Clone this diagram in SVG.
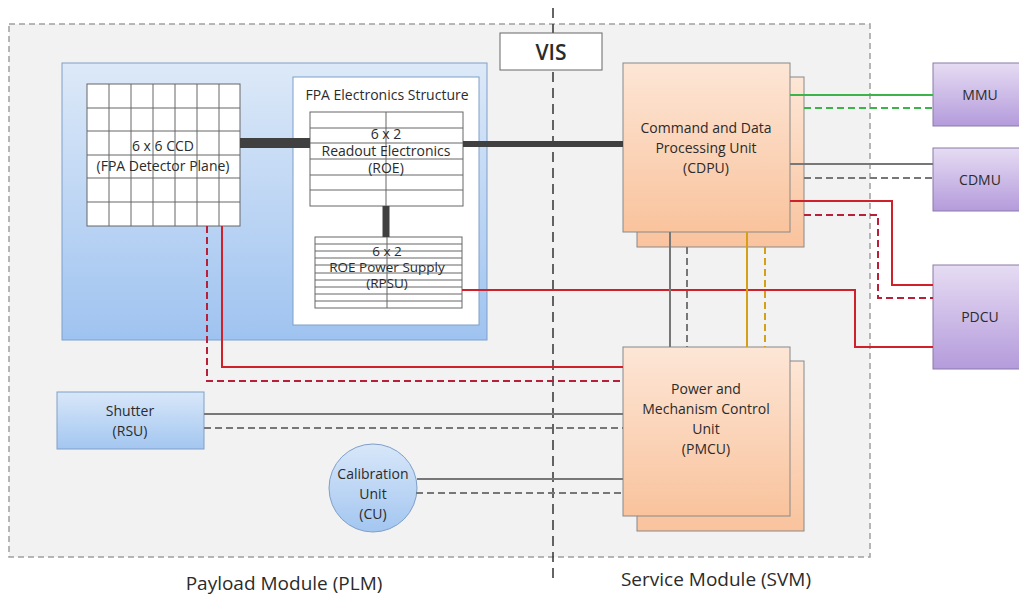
<svg xmlns="http://www.w3.org/2000/svg" width="1019" height="596" viewBox="0 0 1019 596">
<defs>
<linearGradient id="gBlue" x1="0" y1="0" x2="0" y2="1"><stop offset="0" stop-color="#dde9f8"/><stop offset="1" stop-color="#9fc3f0"/></linearGradient>
<linearGradient id="gBlue2" x1="0" y1="0" x2="0" y2="1"><stop offset="0" stop-color="#d8e7f9"/><stop offset="1" stop-color="#a3c6f0"/></linearGradient>
<linearGradient id="gPeach" x1="0" y1="0" x2="0" y2="1"><stop offset="0" stop-color="#fde6d6"/><stop offset="1" stop-color="#f9c39d"/></linearGradient>
<linearGradient id="gPurple" x1="0" y1="0" x2="0" y2="1"><stop offset="0" stop-color="#e6dcf3"/><stop offset="1" stop-color="#b49bdb"/></linearGradient>
<style>
text{font-family:"Open Sans","Liberation Sans",sans-serif;fill:#2b2b2b;text-anchor:middle}
.t{font-size:14px}
.s{font-size:13.5px}
.big{font-size:19px}
.grid{fill:#fff;stroke:#666;stroke-width:1}
.gl{stroke:#666;stroke-width:1}
.peach{fill:url(#gPeach);stroke:#888;stroke-width:1}
.purple{fill:url(#gPurple);stroke:#8a7aa8;stroke-width:1}
.c{fill:none;stroke-width:2}
.d{stroke-dasharray:7,4}
.gray{stroke:#777}
.red{stroke:#d0202a}
.redd{stroke:#b8203a}
.green{stroke:#3cb44a}
.gold{stroke:#d4a017}
.thick{stroke:#404040;fill:none}
</style>
</defs>
<rect width="1019" height="596" fill="#fff"/>
<g id="plm-svm-frame">
<rect x="9" y="24" width="861" height="533" fill="#f2f2f2" stroke="#a0a0a0" stroke-width="1.5" stroke-dasharray="6,4"/>
<line x1="553" y1="8" x2="553" y2="582" stroke="#333" stroke-width="1.5" stroke-dasharray="10,6"/>
</g>
<g id="vis"><rect x="500" y="33" width="102" height="37" fill="#fff" stroke="#666" stroke-width="1"/><text x="551" y="60" style="font-size:21px;font-weight:600">VIS</text></g>
<g id="fpa"><rect x="62" y="63" width="425" height="277" fill="url(#gBlue)" stroke="#7f9fc8" stroke-width="1"/></g>
<g id="ccd">
<rect x="87" y="84" width="153" height="142" class="grid"/>
<path class="gl" d="M109 84V226M131 84V226M153 84V226M175 84V226M197 84V226M219 84V226M87 108H240M87 131H240M87 155H240M87 178H240M87 202H240"/>
<text class="t" x="163" y="151">6 x 6 CCD</text>
<text class="t" x="163" y="171">(FPA Detector Plane)</text>
</g>
<g id="fpa-electronics">
<rect x="293" y="77" width="186" height="248" fill="#fff" stroke="#7f9fc8" stroke-width="1"/>
<text class="t" x="387" y="100">FPA Electronics Structure</text>
</g>
<g id="roe">
<rect x="310" y="112" width="153" height="94" class="grid"/>
<path class="gl" d="M386 112V206M310 128H463M310 143H463M310 159H463M310 175H463M310 190H463"/>
<text class="t" x="386" y="139">6  x 2</text>
<text class="t" x="386" y="156">Readout Electronics</text>
<text class="t" x="386" y="173">(ROE)</text>
</g>
<g id="rpsu">
<rect x="315" y="237" width="147" height="71" class="grid"/>
<path class="gl" d="M387 237V308M315 244H462M315 251H462M315 258H462M315 265H462M315 273H462M315 280H462M315 287H462M315 294H462M315 301H462"/>
<text class="s" x="387" y="256">6  x 2</text>
<text class="s" x="387" y="272">ROE Power Supply</text>
<text class="s" x="387" y="288">(RPSU)</text>
</g>
<g id="shutter">
<rect x="57" y="392" width="147" height="57" fill="url(#gBlue2)" stroke="#7f9fc8" stroke-width="1"/>
<text class="t" x="130" y="416">Shutter</text>
<text class="t" x="130" y="436">(RSU)</text>
</g>
<g id="cu">
<circle cx="373" cy="488" r="44" fill="url(#gBlue2)" stroke="#7f9fc8" stroke-width="1"/>
<text class="t" x="373" y="479">Calibration</text>
<text class="t" x="373" y="499">Unit</text>
<text class="t" x="373" y="519">(CU)</text>
</g>
<g id="cdpu">
<rect x="637" y="77" width="167" height="170" class="peach"/>
<rect x="623" y="63" width="167" height="169" class="peach"/>
<text class="t" x="706" y="133">Command and Data</text>
<text class="t" x="706" y="153">Processing Unit</text>
<text class="t" x="706" y="173">(CDPU)</text>
</g>
<g id="pmcu">
<rect x="637" y="361" width="167" height="170" class="peach"/>
<rect x="623" y="347" width="167" height="169" class="peach"/>
<text class="t" x="706" y="394">Power and</text>
<text class="t" x="706" y="414">Mechanism Control</text>
<text class="t" x="706" y="434">Unit</text>
<text class="t" x="706" y="454">(PMCU)</text>
</g>
<g id="mmu"><rect x="933" y="63" width="90" height="63" class="purple"/><text class="t" x="980" y="100">MMU</text></g>
<g id="cdmu"><rect x="933" y="148" width="90" height="63" class="purple"/><text class="t" x="980" y="185">CDMU</text></g>
<g id="pdcu"><rect x="933" y="265" width="90" height="104" class="purple"/><text class="t" x="980" y="322">PDCU</text></g>
<g id="connectors">
<line x1="240" y1="143" x2="310" y2="143" class="thick" stroke-width="10"/>
<line x1="463" y1="144" x2="623" y2="144" class="thick" stroke-width="6"/>
<line x1="386" y1="206" x2="386" y2="237" class="thick" stroke-width="7"/>
<polyline points="462,290 855,290 855,347 933,347" class="c red"/>
<polyline points="222,226 222,367 623,367" class="c red"/>
<polyline points="207,226 207,381 623,381" class="c redd d"/>
<line x1="204" y1="414" x2="623" y2="414" class="c gray"/>
<line x1="204" y1="428" x2="623" y2="428" class="c gray d"/>
<line x1="417" y1="479" x2="623" y2="479" class="c gray"/>
<line x1="416" y1="493" x2="623" y2="493" class="c gray d"/>
<line x1="790" y1="95" x2="933" y2="95" class="c green"/>
<line x1="804" y1="108" x2="933" y2="108" class="c green d"/>
<line x1="790" y1="164" x2="933" y2="164" class="c gray"/>
<line x1="804" y1="178" x2="933" y2="178" class="c gray d"/>
<polyline points="790,201 892,201 892,285 933,285" class="c red"/>
<polyline points="804,215 878,215 878,298 933,298" class="c redd d"/>
<line x1="670" y1="232" x2="670" y2="347" class="c gray"/>
<line x1="687" y1="247" x2="687" y2="347" class="c gray d"/>
<line x1="747" y1="232" x2="747" y2="347" class="c gold"/>
<line x1="765" y1="247" x2="765" y2="347" class="c gold d"/>
</g>
<g id="labels">
<text class="big" x="284" y="590">Payload Module (PLM)</text>
<text class="big" x="716" y="586">Service Module (SVM)</text>
</g>
</svg>
